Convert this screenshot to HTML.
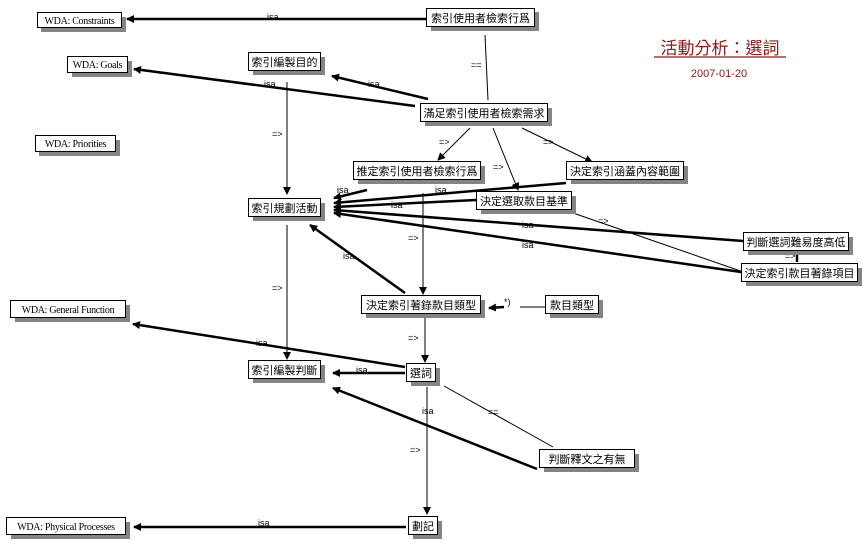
<!DOCTYPE html>
<html><head><meta charset="utf-8"><style>
html,body{margin:0;padding:0;background:#fff;}
svg{display:block;}
.n{font-family:"Liberation Sans","Noto Sans CJK TC","WenQuanYi Zen Hei",sans-serif;font-size:11px;}
.w{font-family:"Liberation Serif",serif;font-size:10px;letter-spacing:-0.3px;}
.l{font-family:"Liberation Sans",sans-serif;font-size:9px;}
</style></head><body>
<svg width="868" height="552" viewBox="0 0 868 552" xmlns="http://www.w3.org/2000/svg">
<defs>
<marker id="a" markerWidth="8" markerHeight="8" refX="7" refY="4" orient="auto" markerUnits="userSpaceOnUse"><path d="M0,0 L8,4 L0,8 z" fill="#000"/></marker>
</defs>
<g stroke="#000" fill="none">
<g stroke-width="2.5">
<line x1="426" y1="19" x2="127" y2="19" marker-end="url(#a)"/>
<line x1="415" y1="106" x2="134" y2="69" marker-end="url(#a)"/>
<line x1="428" y1="99" x2="332" y2="76" marker-end="url(#a)"/>
<line x1="367" y1="190" x2="334" y2="198" marker-end="url(#a)"/>
<line x1="566" y1="183" x2="334" y2="203" marker-end="url(#a)"/>
<line x1="476" y1="200" x2="334" y2="207" marker-end="url(#a)"/>
<line x1="743" y1="241" x2="334" y2="210" marker-end="url(#a)"/>
<line x1="741" y1="272" x2="334" y2="213" marker-end="url(#a)"/>
<line x1="405" y1="293" x2="310" y2="225" marker-end="url(#a)"/>
<line x1="405" y1="367" x2="133" y2="324" marker-end="url(#a)"/>
<line x1="405" y1="373" x2="333" y2="373" marker-end="url(#a)"/>
<line x1="537" y1="469" x2="333" y2="388" marker-end="url(#a)"/>
<line x1="406" y1="527" x2="134" y2="527" marker-end="url(#a)"/>
<line x1="504" y1="307" x2="489" y2="308" marker-end="url(#a)"/>
<line x1="520" y1="307" x2="545" y2="307" stroke-width="1"/>
<line x1="797" y1="255" x2="797" y2="262"/>
</g>
<g stroke-width="1">
<line x1="485" y1="35" x2="488" y2="100"/>
<line x1="287" y1="82" x2="287" y2="194" marker-end="url(#a)"/>
<line x1="470" y1="128" x2="438" y2="160" marker-end="url(#a)"/>
<line x1="493" y1="128" x2="518" y2="190" marker-end="url(#a)"/>
<line x1="522" y1="128" x2="592" y2="162" marker-end="url(#a)"/>
<line x1="423" y1="193" x2="423" y2="294" marker-end="url(#a)"/>
<line x1="573" y1="213" x2="755" y2="276" marker-end="url(#a)"/>
<line x1="287" y1="225" x2="287" y2="359" marker-end="url(#a)"/>
<line x1="425" y1="318" x2="425" y2="362" marker-end="url(#a)"/>
<line x1="427" y1="387" x2="427" y2="514" marker-end="url(#a)"/>
<line x1="444" y1="386" x2="553" y2="447"/>
</g>
</g>
<g class="l" fill="#000">
<text x="267" y="20">isa</text>
<text x="471" y="68">==</text>
<text x="264" y="87">isa</text>
<text x="368" y="87">isa</text>
<text x="272" y="137">=&gt;</text>
<text x="439" y="145">=&gt;</text>
<text x="493" y="170">=&gt;</text>
<text x="543" y="145">=&gt;</text>
<text x="337" y="193">isa</text>
<text x="435" y="193">isa</text>
<text x="391" y="208">isa</text>
<text x="598" y="224">=&gt;</text>
<text x="522" y="228">isa</text>
<text x="522" y="248">isa</text>
<text x="785" y="259">=&gt;</text>
<text x="408" y="241">=&gt;</text>
<text x="343" y="259">isa</text>
<text x="272" y="291">=&gt;</text>
<text x="504" y="305">*)</text>
<text x="408" y="341">=&gt;</text>
<text x="256" y="346">isa</text>
<text x="356" y="373">isa</text>
<text x="488" y="415">==</text>
<text x="422" y="414">isa</text>
<text x="410" y="453">=&gt;</text>
<text x="258" y="526">isa</text>
</g>
<g>
<g fill="#848484">
<rect x="41" y="17" width="85" height="15"/>
<rect x="431" y="12" width="108" height="19"/>
<rect x="72" y="61" width="60" height="16"/>
<rect x="253" y="57" width="72" height="18"/>
<rect x="425" y="108" width="127" height="18"/>
<rect x="39" y="140" width="81" height="16"/>
<rect x="358" y="166" width="127" height="18"/>
<rect x="571" y="166" width="117" height="18"/>
<rect x="481" y="196" width="95" height="18"/>
<rect x="253" y="203" width="72" height="18"/>
<rect x="748" y="237" width="105" height="18"/>
<rect x="746" y="268" width="116" height="18"/>
<rect x="366" y="300" width="119" height="18"/>
<rect x="550" y="300" width="53" height="18"/>
<rect x="15" y="305" width="115" height="17"/>
<rect x="253" y="365" width="72" height="18"/>
<rect x="411" y="368" width="29" height="18"/>
<rect x="544" y="454" width="95" height="18"/>
<rect x="11" y="522" width="119" height="17"/>
<rect x="413" y="521" width="29" height="18"/>
</g>
<g fill="#fff" stroke="#000" stroke-width="1">
<rect x="37.5" y="12.5" width="84" height="15"/>
<rect x="426.5" y="8.5" width="108" height="18"/>
<rect x="67.5" y="56.5" width="60" height="16"/>
<rect x="248.5" y="52.5" width="72" height="18"/>
<rect x="420.5" y="103.5" width="127" height="18"/>
<rect x="35.5" y="135.5" width="80" height="16"/>
<rect x="353.5" y="161.5" width="127" height="18"/>
<rect x="566.5" y="161.5" width="117" height="18"/>
<rect x="476.5" y="191.5" width="95" height="18"/>
<rect x="248.5" y="198.5" width="72" height="18"/>
<rect x="743.5" y="232.5" width="105" height="18"/>
<rect x="741.5" y="263.5" width="116" height="18"/>
<rect x="361.5" y="295.5" width="119" height="18"/>
<rect x="545.5" y="295.5" width="53" height="18"/>
<rect x="10.5" y="300.5" width="115" height="17"/>
<rect x="248.5" y="360.5" width="72" height="18"/>
<rect x="406.5" y="363.5" width="29" height="18"/>
<rect x="539.5" y="449.5" width="95" height="18"/>
<rect x="6.5" y="517.5" width="119" height="17"/>
<rect x="408.5" y="516.5" width="29" height="18"/>
</g>
<g fill="#000" text-anchor="middle">
<text class="w" x="79.5" y="24">WDA: Constraints</text>
<text class="n" x="480.5" y="22">索引使用者檢索行爲</text>
<text class="w" x="97.5" y="68">WDA: Goals</text>
<text class="n" x="284.5" y="66">索引編製目的</text>
<text class="n" x="484" y="117">滿足索引使用者檢索需求</text>
<text class="w" x="75.5" y="147">WDA: Priorities</text>
<text class="n" x="417" y="175">推定索引使用者檢索行爲</text>
<text class="n" x="625" y="175">決定索引涵蓋內容範圍</text>
<text class="n" x="524" y="205">決定選取款目基準</text>
<text class="n" x="284.5" y="212">索引規劃活動</text>
<text class="n" x="796" y="246">判斷選詞難易度高低</text>
<text class="n" x="799.5" y="277">決定索引款目著錄項目</text>
<text class="n" x="421" y="309">決定索引著錄款目類型</text>
<text class="n" x="572" y="309">款目類型</text>
<text class="w" x="68" y="313">WDA: General Function</text>
<text class="n" x="284.5" y="374">索引編製判斷</text>
<text class="n" x="421" y="377">選詞</text>
<text class="n" x="587" y="463">判斷釋文之有無</text>
<text class="w" x="66" y="530">WDA: Physical Processes</text>
<text class="n" x="423" y="530">劃記</text>
</g>
</g>
<text x="720" y="54" text-anchor="middle" fill="#8b1a1a" font-family="'Liberation Sans','Noto Sans CJK TC',sans-serif" font-size="17">活動分析：選詞</text>
<line x1="654" y1="57" x2="786" y2="57" stroke="#8b1a1a" stroke-width="1.2"/>
<text x="719" y="77" text-anchor="middle" fill="#8b1a1a" font-family="'Liberation Sans',sans-serif" font-size="11">2007-01-20</text>
</svg>
</body></html>
